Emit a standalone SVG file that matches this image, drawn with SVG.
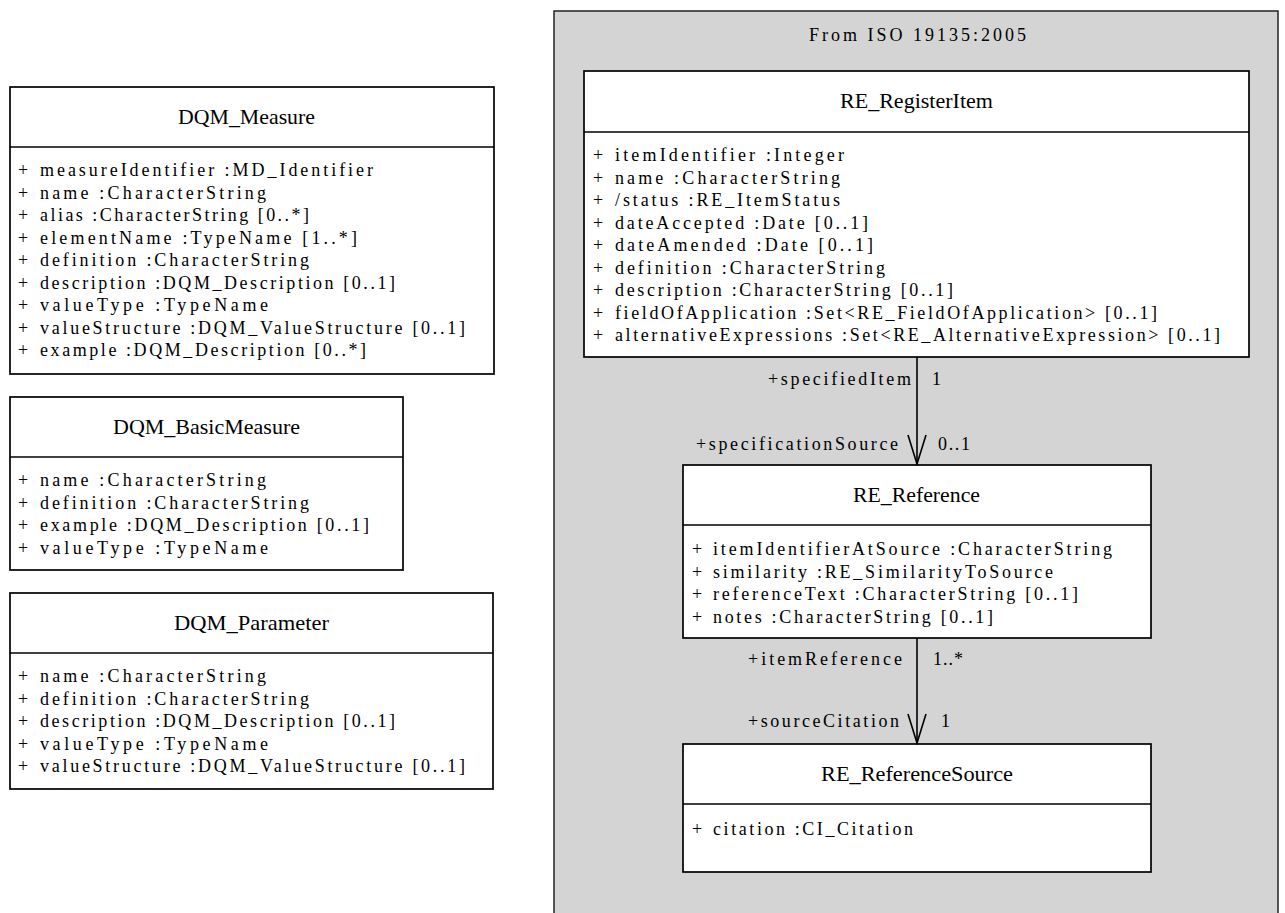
<svg xmlns="http://www.w3.org/2000/svg" width="1285" height="913" viewBox="0 0 1285 913">
<style>
.bg{fill:#ffffff}
.box{fill:#ffffff;stroke:#000000;stroke-width:1.7}
.div{stroke:#000000;stroke-width:1.7}
.pkg{fill:#d3d4d3;stroke:#222222;stroke-width:1.5}
.t{font-family:"Liberation Serif",serif;font-size:21px;fill:#000000}
.a{font-family:"Liberation Serif",serif;font-size:18px;fill:#000000}
.l{font-family:"Liberation Serif",serif;font-size:18px;fill:#000000}
.conn{stroke:#000000;stroke-width:1.6;fill:none}
</style>
<defs>
<marker id="open" markerWidth="20" markerHeight="32" refX="10" refY="30" orient="0" markerUnits="userSpaceOnUse" viewBox="0 0 20 32">
<path d="M1,1 L10,30 L19,1" fill="none" stroke="#000000" stroke-width="1.6"/>
</marker>
</defs>
<rect class="bg" x="0" y="0" width="1285" height="913"/>

<g id="pkg_iso19135">
<rect class="pkg" x="554" y="11" width="724" height="912"/>
<text class="a" x="809" y="41" textLength="217" lengthAdjust="spacing">From ISO 19135:2005</text>
</g>

<g id="DQM_Measure">
<rect class="box" x="10" y="87" width="484" height="287"/>
<line class="div" x1="10" y1="147" x2="494" y2="147"/>
<text class="t" x="178" y="124" textLength="137" lengthAdjust="spacingAndGlyphs">DQM_Measure</text>
<g class="a">
<text x="18" y="176">+</text><text x="40" y="176" textLength="333" lengthAdjust="spacing">measureIdentifier :MD_Identifier</text>
<text x="18" y="198.5">+</text><text x="40" y="198.5" textLength="226" lengthAdjust="spacing">name :CharacterString</text>
<text x="18" y="221">+</text><text x="40" y="221" textLength="269" lengthAdjust="spacing">alias :CharacterString [0..*]</text>
<text x="18" y="243.5">+</text><text x="40" y="243.5" textLength="317" lengthAdjust="spacing">elementName :TypeName [1..*]</text>
<text x="18" y="266">+</text><text x="40" y="266" textLength="269" lengthAdjust="spacing">definition :CharacterString</text>
<text x="18" y="288.5">+</text><text x="40" y="288.5" textLength="355" lengthAdjust="spacing">description :DQM_Description [0..1]</text>
<text x="18" y="311">+</text><text x="40" y="311" textLength="228" lengthAdjust="spacing">valueType :TypeName</text>
<text x="18" y="333.5">+</text><text x="40" y="333.5" textLength="425" lengthAdjust="spacing">valueStructure :DQM_ValueStructure [0..1]</text>
<text x="18" y="356">+</text><text x="40" y="356" textLength="326" lengthAdjust="spacing">example :DQM_Description [0..*]</text>
</g>
</g>

<g id="DQM_BasicMeasure">
<rect class="box" x="10" y="397" width="393" height="173"/>
<line class="div" x1="10" y1="457" x2="403" y2="457"/>
<text class="t" x="113" y="434" textLength="187" lengthAdjust="spacingAndGlyphs">DQM_BasicMeasure</text>
<g class="a">
<text x="18" y="486">+</text><text x="40" y="486" textLength="226" lengthAdjust="spacing">name :CharacterString</text>
<text x="18" y="508.5">+</text><text x="40" y="508.5" textLength="269" lengthAdjust="spacing">definition :CharacterString</text>
<text x="18" y="531">+</text><text x="40" y="531" textLength="329" lengthAdjust="spacing">example :DQM_Description [0..1]</text>
<text x="18" y="553.5">+</text><text x="40" y="553.5" textLength="228" lengthAdjust="spacing">valueType :TypeName</text>
</g>
</g>

<g id="DQM_Parameter">
<rect class="box" x="10" y="593" width="483" height="196"/>
<line class="div" x1="10" y1="653" x2="493" y2="653"/>
<text class="t" x="174" y="630" textLength="155" lengthAdjust="spacingAndGlyphs">DQM_Parameter</text>
<g class="a">
<text x="18" y="682">+</text><text x="40" y="682" textLength="226" lengthAdjust="spacing">name :CharacterString</text>
<text x="18" y="704.5">+</text><text x="40" y="704.5" textLength="269" lengthAdjust="spacing">definition :CharacterString</text>
<text x="18" y="727">+</text><text x="40" y="727" textLength="355" lengthAdjust="spacing">description :DQM_Description [0..1]</text>
<text x="18" y="749.5">+</text><text x="40" y="749.5" textLength="228" lengthAdjust="spacing">valueType :TypeName</text>
<text x="18" y="772">+</text><text x="40" y="772" textLength="425" lengthAdjust="spacing">valueStructure :DQM_ValueStructure [0..1]</text>
</g>
</g>

<g id="RE_RegisterItem">
<rect class="box" x="584" y="71" width="665" height="286"/>
<line class="div" x1="584" y1="132" x2="1249" y2="132"/>
<text class="t" x="840" y="108" textLength="153" lengthAdjust="spacingAndGlyphs">RE_RegisterItem</text>
<g class="a">
<text x="593" y="161">+</text><text x="615" y="161" textLength="229" lengthAdjust="spacing">itemIdentifier :Integer</text>
<text x="593" y="183.5">+</text><text x="615" y="183.5" textLength="225" lengthAdjust="spacing">name :CharacterString</text>
<text x="593" y="206">+</text><text x="615" y="206" textLength="225" lengthAdjust="spacing">/status :RE_ItemStatus</text>
<text x="593" y="228.5">+</text><text x="615" y="228.5" textLength="253" lengthAdjust="spacing">dateAccepted :Date [0..1]</text>
<text x="593" y="251">+</text><text x="615" y="251" textLength="258" lengthAdjust="spacing">dateAmended :Date [0..1]</text>
<text x="593" y="273.5">+</text><text x="615" y="273.5" textLength="270" lengthAdjust="spacing">definition :CharacterString</text>
<text x="593" y="296">+</text><text x="615" y="296" textLength="338" lengthAdjust="spacing">description :CharacterString [0..1]</text>
<text x="593" y="318.5">+</text><text x="615" y="318.5" textLength="542" lengthAdjust="spacing">fieldOfApplication :Set&lt;RE_FieldOfApplication&gt; [0..1]</text>
<text x="593" y="341">+</text><text x="615" y="341" textLength="605" lengthAdjust="spacing">alternativeExpressions :Set&lt;RE_AlternativeExpression&gt; [0..1]</text>
</g>
</g>

<g id="RE_Reference">
<rect class="box" x="683" y="465" width="468" height="173"/>
<line class="div" x1="683" y1="525" x2="1151" y2="525"/>
<text class="t" x="853" y="502" textLength="127" lengthAdjust="spacingAndGlyphs">RE_Reference</text>
<g class="a">
<text x="692" y="555">+</text><text x="713" y="555" textLength="399" lengthAdjust="spacing">itemIdentifierAtSource :CharacterString</text>
<text x="692" y="577.5">+</text><text x="713" y="577.5" textLength="340" lengthAdjust="spacing">similarity :RE_SimilarityToSource</text>
<text x="692" y="600">+</text><text x="713" y="600" textLength="365" lengthAdjust="spacing">referenceText :CharacterString [0..1]</text>
<text x="692" y="622.5">+</text><text x="713" y="622.5" textLength="280" lengthAdjust="spacing">notes :CharacterString [0..1]</text>
</g>
</g>

<g id="RE_ReferenceSource">
<rect class="box" x="683" y="744" width="468" height="128"/>
<line class="div" x1="683" y1="804" x2="1151" y2="804"/>
<text class="t" x="821" y="781" textLength="192" lengthAdjust="spacingAndGlyphs">RE_ReferenceSource</text>
<g class="a">
<text x="692" y="835">+</text><text x="713" y="835" textLength="200" lengthAdjust="spacing">citation :CI_Citation</text>
</g>
</g>

<g id="connectors">
<g id="assoc_item_reference">
<line class="conn" x1="917" y1="357" x2="917" y2="464" marker-end="url(#open)"/>
<text class="l" x="768" y="385" textLength="143" lengthAdjust="spacing">+specifiedItem</text>
<text class="l" x="932" y="385">1</text>
<text class="l" x="696" y="450" textLength="202" lengthAdjust="spacing">+specificationSource</text>
<text class="l" x="938" y="450" textLength="32" lengthAdjust="spacing">0..1</text>
</g>
<g id="assoc_reference_source">
<line class="conn" x1="917" y1="638" x2="917" y2="743" marker-end="url(#open)"/>
<text class="l" x="748" y="665" textLength="154" lengthAdjust="spacing">+itemReference</text>
<text class="l" x="933" y="665" textLength="30" lengthAdjust="spacing">1..*</text>
<text class="l" x="748" y="727" textLength="151" lengthAdjust="spacing">+sourceCitation</text>
<text class="l" x="941" y="727">1</text>
</g>
</g>
</svg>
